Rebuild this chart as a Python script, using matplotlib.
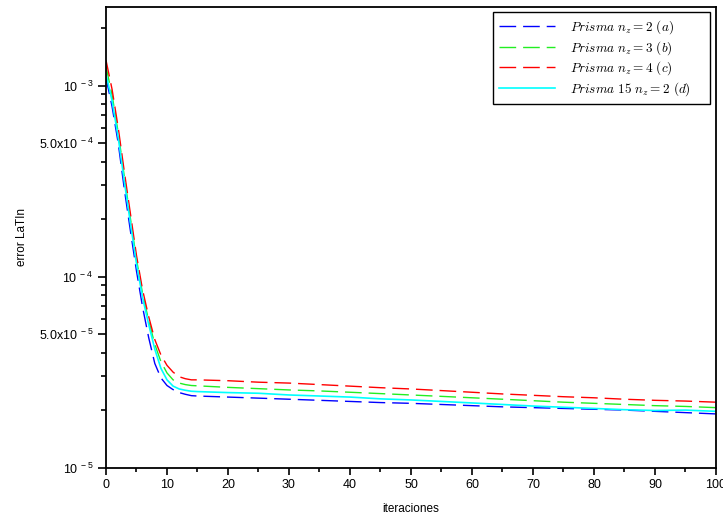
import numpy as np
import matplotlib
matplotlib.use('Agg')
from matplotlib import pyplot as plt
from matplotlib.ticker import FixedLocator, FixedFormatter

plt.rcParams['font.family'] = ['Liberation Sans', 'DejaVu Sans']
plt.rcParams['mathtext.fontset'] = 'custom'
plt.rcParams['mathtext.rm'] = 'Liberation Sans'
plt.rcParams['mathtext.it'] = 'Liberation Sans:italic'

# iteraciones (denso al principio, luego cada 5)
iters = [0, 1, 2, 3, 4, 5, 6, 7, 8, 9, 10, 11, 12, 13, 14,
         15, 20, 25, 30, 35, 40, 45, 50, 55, 60, 65, 70, 75, 80, 85, 90, 95, 100]

err_a = [1.10e-3, 7.76e-4, 5.01e-4, 2.88e-4, 1.74e-4, 1.07e-4, 6.92e-5, 4.79e-5, 3.51e-5,
         2.95e-5, 2.69e-5, 2.56e-5, 2.47e-5, 2.42e-5, 2.38e-5,
         2.37e-5, 2.34e-5, 2.31e-5, 2.28e-5, 2.25e-5, 2.22e-5, 2.19e-5, 2.17e-5, 2.14e-5,
         2.11e-5, 2.08e-5, 2.06e-5, 2.04e-5, 2.02e-5, 2.00e-5, 1.97e-5, 1.94e-5, 1.91e-5]

err_b = [1.26e-3, 8.91e-4, 5.69e-4, 3.35e-4, 2.02e-4, 1.23e-4, 8.13e-5, 5.89e-5, 4.42e-5,
         3.59e-5, 3.13e-5, 2.88e-5, 2.77e-5, 2.72e-5, 2.69e-5,
         2.68e-5, 2.63e-5, 2.59e-5, 2.55e-5, 2.52e-5, 2.48e-5, 2.44e-5, 2.40e-5, 2.36e-5,
         2.32e-5, 2.28e-5, 2.24e-5, 2.20e-5, 2.17e-5, 2.14e-5, 2.11e-5, 2.09e-5, 2.06e-5]

err_c = [1.36e-3, 9.55e-4, 6.03e-4, 3.55e-4, 2.14e-4, 1.29e-4, 8.51e-5, 6.17e-5, 4.68e-5,
         3.89e-5, 3.43e-5, 3.16e-5, 2.99e-5, 2.92e-5, 2.88e-5,
         2.88e-5, 2.85e-5, 2.80e-5, 2.77e-5, 2.72e-5, 2.67e-5, 2.62e-5, 2.58e-5, 2.53e-5,
         2.48e-5, 2.43e-5, 2.39e-5, 2.35e-5, 2.32e-5, 2.28e-5, 2.25e-5, 2.23e-5, 2.20e-5]

err_d = [1.15e-3, 8.32e-4, 5.37e-4, 3.16e-4, 1.91e-4, 1.17e-4, 7.76e-5, 5.62e-5, 4.17e-5,
         3.31e-5, 2.88e-5, 2.67e-5, 2.58e-5, 2.54e-5, 2.51e-5,
         2.50e-5, 2.47e-5, 2.45e-5, 2.40e-5, 2.37e-5, 2.34e-5, 2.29e-5, 2.26e-5, 2.22e-5,
         2.18e-5, 2.14e-5, 2.10e-5, 2.07e-5, 2.04e-5, 2.01e-5, 1.99e-5, 2.00e-5, 1.97e-5]

labels = [r'$Prisma\ n_z = 2\ (a)$', r'$Prisma\ n_z = 3\ (b)$',
          r'$Prisma\ n_z = 4\ (c)$', r'$Prisma\ 15\ n_z = 2\ (d)$']

ytick_vals = [1e-5, 5e-5, 1e-4, 5e-4, 1e-3]
ytick_labels = [r'$10^{\ -5}$', r'5.0x$10^{\ -5}$', r'$10^{\ -4}$', r'5.0x$10^{\ -4}$', r'$10^{\ -3}$']

fig = plt.figure(figsize=(7.23, 5.2), dpi=100)
ax = fig.add_axes([0.1466, 0.1008, 0.8437, 0.8857])

ax.plot(iters, err_a, color='#0000ff', lw=1.0, dashes=(12, 5), label=labels[0])
ax.plot(iters, err_b, color='#22ee22', lw=1.0, dashes=(12, 5), label=labels[1])
ax.plot(iters, err_c, color='#ff0000', lw=1.0, dashes=(12, 5), label=labels[2])
ax.plot(iters, err_d, color='#00ffff', lw=1.2, label=labels[3])

ax.set_yscale('log')
ax.set_ylim(1e-5, 2.58e-3)
ax.set_xlim(0, 100)

ax.yaxis.set_major_locator(FixedLocator(ytick_vals))
ax.yaxis.set_major_formatter(FixedFormatter(ytick_labels))
minors = [m * 10.0 ** e for e in (-5, -4, -3) for m in (2, 3, 4, 6, 7, 8, 9)]
ax.yaxis.set_minor_locator(FixedLocator([v for v in minors if v < 2.58e-3]))
ax.yaxis.set_minor_formatter(FixedFormatter([]))

ax.set_xticks(np.arange(0, 101, 10))
ax.set_xticks(np.arange(5, 100, 10), minor=True)

ax.tick_params(axis='both', which='major', direction='out', length=6, width=1.2,
               labelsize=9, pad=3)
ax.tick_params(axis='both', which='minor', direction='out', length=3.5, width=1.2)
ax.tick_params(axis='x', which='major', length=5)
ax.tick_params(axis='x', which='minor', length=3)

for s in ax.spines.values():
    s.set_linewidth(1.3)

ax.set_xlabel('iteraciones', fontsize=8.5, labelpad=9)
ax.set_ylabel('error LaTIn', fontsize=8.5, labelpad=8)

leg = ax.legend(loc='upper left', bbox_to_anchor=(0.634, 0.0, 0.356, 0.989),
                mode='expand', borderaxespad=0,
                prop={'size': 9.5, 'math_fontfamily': 'cm'},
                handlelength=4.3, fancybox=False, framealpha=1, edgecolor='black',
                borderpad=0.45, labelspacing=0.23, handletextpad=1.1)
leg.get_frame().set_linewidth(1.0)

fig.savefig('out.png', dpi=100)
